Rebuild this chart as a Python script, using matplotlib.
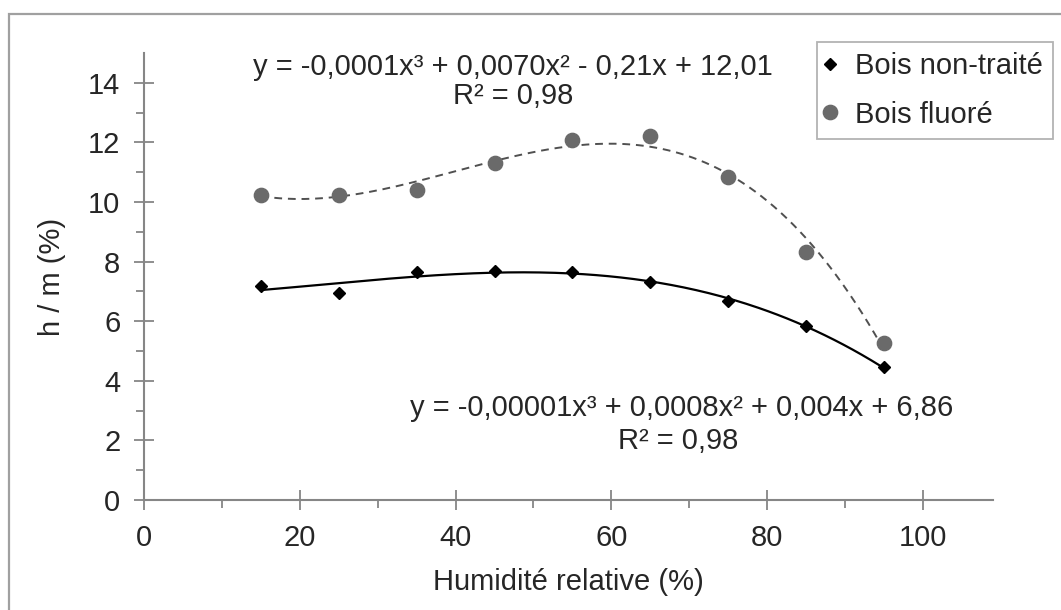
# h/m ratio vs relative humidity, treated and untreated wood

import numpy as np
import matplotlib
matplotlib.use('Agg')
import matplotlib.pyplot as plt
from matplotlib.patches import Rectangle
from matplotlib.lines import Line2D

plt.rcParams['font.family'] = ['Liberation Sans', 'DejaVu Sans']

humidite = [15, 25, 35, 45, 55, 65, 75, 85, 95]
non_traite = [7.18, 6.95, 7.65, 7.7, 7.65, 7.3, 6.69, 5.83, 4.45]
fluore = [10.25, 10.25, 10.4, 11.3, 12.08, 12.22, 10.83, 8.33, 5.28]

eq_fluore = ["y = -0,0001x³ + 0,0070x² - 0,21x + 12,01", "R² = 0,98"]
eq_non_traite = ["y = -0,00001x³ + 0,0008x² + 0,004x + 6,86", "R² = 0,98"]

W, H = 1061, 610
fig = plt.figure(figsize=(W / 100, H / 100), dpi=100)

def fx(px):
    return px / W

def fy(py):
    return 1 - py / H

# outer chart border (runs off the right and bottom edges)
fig.patches.append(Rectangle((fx(9), -0.1), 1.2, fy(14) + 0.1,
                             transform=fig.transFigure, fill=False,
                             edgecolor='#a0a0a0', lw=1.6))

ax = fig.add_axes([fx(144), fy(500), fx(993) - fx(144), fy(53) - fy(500)])

grey_axis = '#868686'
txt = '#262626'
fs = 21

# cubic trendlines fitted on the points
xx = np.linspace(15, 95, 200)
p1 = np.polyfit(humidite, non_traite, 3)
p2 = np.polyfit(humidite, fluore, 3)
ax.plot(xx, np.polyval(p1, xx), color='black', lw=1.6, zorder=2)
ax.plot(xx, np.polyval(p2, xx), color='#505050', lw=1.4, ls=(0, (4, 3)), zorder=2)

ax.plot(humidite, non_traite, ls='none', marker='D', ms=6.2, color='black', zorder=3)
ax.plot(humidite, fluore, ls='none', marker='o', ms=10.3, color='#6a6a6a', zorder=3)

ax.set_xlim(0, 109)
ax.set_ylim(0, 15)
ax.set_xticks(range(0, 101, 20))
ax.set_xticks(range(10, 100, 20), minor=True)
ax.set_yticks(range(0, 15, 2))
ax.set_yticks(range(1, 15, 2), minor=True)

for s in ['top', 'right']:
    ax.spines[s].set_visible(False)
for s in ['left', 'bottom']:
    ax.spines[s].set_color(grey_axis)
    ax.spines[s].set_linewidth(1.5)

ax.tick_params(which='major', direction='inout', length=14, width=1.3,
               color=grey_axis, labelsize=fs, labelcolor=txt, pad=10)
ax.tick_params(which='minor', direction='out', length=6, width=1.3, color=grey_axis)

ax.set_xlabel('Humidité relative (%)', fontsize=fs, color=txt, labelpad=12)
ax.set_ylabel('h / m (%)', fontsize=fs, color=txt, labelpad=16)

# equations
fig.text(fx(513), fy(67), eq_fluore[0], fontsize=fs, color=txt, ha='center', va='center')
fig.text(fx(513), fy(96), eq_fluore[1], fontsize=fs, color=txt, ha='center', va='center')
fig.text(fx(682), fy(408), eq_non_traite[0], fontsize=fs, color=txt, ha='center', va='center')
fig.text(fx(678), fy(441), eq_non_traite[1], fontsize=fs, color=txt, ha='center', va='center')

handles = [Line2D([], [], ls='none', marker='D', ms=6.2, color='black'),
           Line2D([], [], ls='none', marker='o', ms=10.3, color='#6a6a6a')]
leg = fig.legend(handles, ['Bois non-traité', 'Bois fluoré'], loc='upper left',
                 bbox_to_anchor=(fx(817), fy(42)), borderaxespad=0, fontsize=fs,
                 frameon=True, fancybox=False, handlelength=0.2, handletextpad=0.75,
                 borderpad=0.35, labelspacing=0.7)
leg.get_frame().set_edgecolor('#a0a0a0')
leg.get_frame().set_linewidth(1.3)
for t in leg.get_texts():
    t.set_color(txt)

fig.savefig('out.png', dpi=100)
